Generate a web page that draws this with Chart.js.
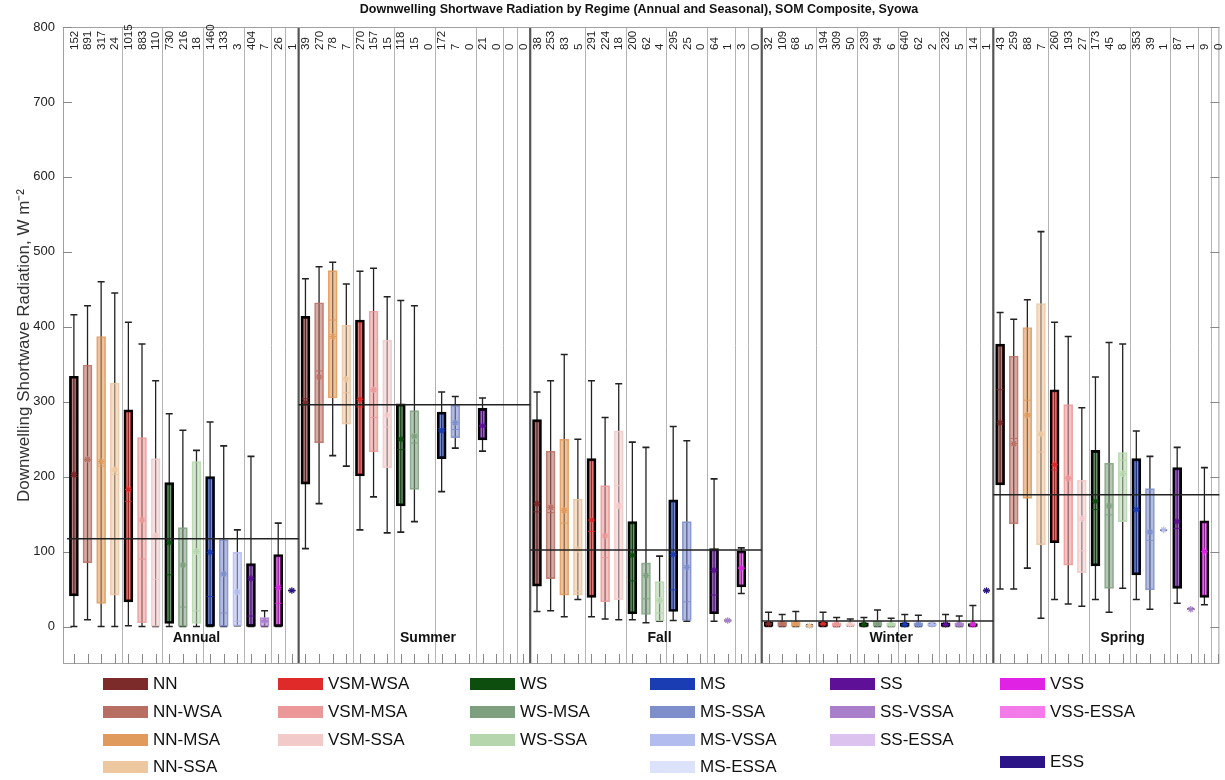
<!DOCTYPE html>
<html><head><meta charset="utf-8">
<script src="https://cdn.jsdelivr.net/npm/chart.js@4/dist/chart.umd.min.js"></script>
<style>
body{margin:0;background:#fff;font-family:"Liberation Sans",Arial,sans-serif;}
#wrap{position:relative;width:1225px;height:780px;overflow:hidden;}
canvas{position:absolute;left:0;top:0;}
#title{position:absolute;top:2px;left:0;width:1278px;text-align:center;font-weight:bold;font-size:12.5px;color:#111;}
.lg{position:absolute;font-size:17px;color:#111;line-height:20px;white-space:nowrap;}
.sw{position:absolute;width:45px;height:12px;}
</style></head>
<body><div id="wrap"><canvas id="c" width="1225" height="780"></canvas>
<div id="title">Downwelling Shortwave Radiation by Regime (Annual and Seasonal), SOM Composite, Syowa</div>
</div>
<script>
const seasons = ['Annual','Summer','Fall','Winter','Spring'];
const regimes = ['NN','NN-WSA','NN-MSA','NN-SSA','VSM-WSA','VSM-MSA','VSM-SSA','WS','WS-MSA','WS-SSA','MS','MS-SSA','MS-VSSA','SS','SS-VSSA','VSS','ESS'];
const seasonMeans = [117, 296, 102, 7.5, 176];

const counts = [
  [152,891,317,24,1015,883,110,730,216,18,1460,133,3,404,7,26,1],
  [39,270,78,7,270,157,15,118,15,0,172,7,0,21,0,0,0],
  [38,253,83,5,291,224,18,200,62,4,295,25,0,64,1,3,0],
  [32,109,68,5,194,309,50,239,94,6,640,62,2,232,5,14,1],
  [43,259,88,7,260,193,27,173,45,8,353,39,1,87,1,9,0]
];
const whiskerLow = [
  [0,9,0,0,1,0,0,0,0,0,0,0,1,0,0,0,48],
  [104,164,228,214,129,173,125,126,140,null,180,238,null,234,null,null,null],
  [20,21,13,36,13,10,9,9,5,7,8,7,null,7,8,44,null],
  [0,0,0,0,0,0,1,0,0,0,0,0,1,0,0,0,48],
  [50,50,78,11,36,30,27,36,19,51,36,23,129,31,23,29,null]
];
const quart1 = [
  [41,85,31,42,33,5,0,4,0,4,0,0,1,0,0,0,48],
  [190,245,305,270,201,233,212,161,183,null,224,252,null,249,null,null,null],
  [54,64,42,42,39,33,36,17,16,7,20,8,null,17,8,53,null],
  [0,0,0,0,0,0,1,0,0,0,0,0,1,0,0,0,48],
  [189,137,171,109,112,82,72,81,51,140,69,49,129,51,23,39,null]
];
const medians = [
  [200,222,214,203,167,90,63,69,26,21,40,18,7,14,7,31,48],
  [304,341,409,312,293,279,266,236,245,null,264,263,null,267,null,null,null],
  [153,152,138,47,127,92,188,61,37,18,49,33,null,42,8,78,null],
  [3,3,3,1,3,2,2,2,3,2,2,2,2,2,2,1,48],
  [316,251,302,233,209,198,101,156,149,222,156,115,129,131,23,100,null]
];
const quart3 = [
  [334,349,387,325,289,252,224,192,132,220,200,116,99,84,12,96,48],
  [414,432,475,402,409,421,382,297,288,null,286,295,null,291,null,null,null],
  [276,234,250,170,224,188,261,140,85,60,169,140,null,104,8,101,null],
  [6,6,6,1,6,5,4,5,7,5,5,5,4,5,5,4,48],
  [377,361,399,431,316,296,195,235,218,232,224,184,129,212,23,141,null]
];
const whiskerHigh = [
  [416,428,460,445,406,377,328,284,262,235,273,241,129,227,21,138,48],
  [464,480,486,457,474,478,440,435,428,null,313,307,null,305,null,null,null],
  [313,328,363,250,328,279,324,246,239,94,267,248,null,197,8,105,null],
  [19,16,20,2,19,12,10,12,22,11,16,15,4,16,14,28,48],
  [419,410,436,527,406,387,292,333,379,377,261,227,129,239,23,212,null]
];
const means = [
  [203,223,220,209,183,142,121,112,82,100,99,70,46,64,8,52,48],
  [299,333,387,330,303,316,282,250,254,null,261,272,null,268,null,null,null],
  [164,159,155,103,142,121,161,95,68,35,96,79,null,75,8,78,null],
  [4,4,4,1,4,3,3,3,4,3,3,3,3,3,3,3,48],
  [272,244,282,257,216,198,144,167,161,204,156,126,129,140,23,100,null]
];
const yTicks = [0,100,200,300,400,500,600,700,800];

const legendLabels = ['NN','NN-WSA','NN-MSA','NN-SSA','VSM-WSA','VSM-MSA','VSM-SSA','WS','WS-MSA','WS-SSA','MS','MS-SSA','MS-VSSA','MS-ESSA','SS','SS-VSSA','SS-ESSA','VSS','VSS-ESSA','ESS'];
const legendColors = ['#7d2a2a','#b86f63','#e09a5c','#ecc7a0','#e02a2a','#ec9898','#f2caca','#0d4d0d','#7fa07f','#b6d6ae','#1b3db3','#7d8ecb','#b3bcef','#dbe2fa','#5e1097','#a97fcb','#dcc2ee','#df22e3','#f27be9','#2b1486'];
const thickRegimes = ['NN','VSM-WSA','WS','MS','SS','VSS','ESS'];

function colorOf(name){ return legendColors[legendLabels.indexOf(name)]; }
function rgba(hex,a){ const n=parseInt(hex.slice(1),16); return `rgba(${n>>16&255},${n>>8&255},${n&255},${a})`; }
function family(n){ return n.split('-')[0]; }

const N = regimes.length;
const boxData=[], boxFill=[], boxBorder=[], boxBW=[];
const whisk=[], caps=[], medPts=[], medCol=[], meanPts=[], meanCol=[];
seasons.forEach((s,si)=>{
  regimes.forEach((r,ri)=>{
    if (quart1[si][ri]==null) return;
    const x = si*N + ri + 1;
    const col = colorOf(r);
    const thick = thickRegimes.includes(r);
    boxData.push({x, y:[quart1[si][ri], quart3[si][ri]]});
    boxFill.push(rgba(col,0.58));
    boxBorder.push(thick ? '#000' : rgba(col,0.85));
    boxBW.push(thick ? 2.3 : 1);
    whisk.push({x,y:whiskerLow[si][ri]},{x,y:whiskerHigh[si][ri]},{x,y:null});
    caps.push({x,y:whiskerLow[si][ri]},{x,y:whiskerHigh[si][ri]});
    medPts.push({x,y:medians[si][ri]}); medCol.push(rgba(col,0.95));
    meanPts.push({x,y:means[si][ri]}); meanCol.push(col);
  });
});
const seasonLine=[];
seasons.forEach((s,si)=>{
  seasonLine.push({x:si*N+0.5,y:seasonMeans[si]},{x:si*N+N+0.5,y:seasonMeans[si]},{x:si*N+N+0.5,y:null});
});

const deco = {
  id:'deco',
  beforeDatasetsDraw(chart){
    const {ctx, chartArea:a, scales:{x,y}} = chart;
    ctx.save();
    seasons.forEach((s,si)=>{
      for(let ri=0; ri<N-1; ri++){
        if (family(regimes[ri])!==family(regimes[ri+1])){
          const px = Math.round(x.getPixelForValue(si*N+ri+1.5))+0.5;
          ctx.strokeStyle='#b4b4b4'; ctx.lineWidth=1;
          ctx.beginPath(); ctx.moveTo(px,a.top); ctx.lineTo(px,a.bottom); ctx.stroke();
        }
      }
    });
    for(let si=1; si<seasons.length; si++){
      const px = x.getPixelForValue(si*N+0.5);
      ctx.strokeStyle='#555'; ctx.lineWidth=2.2;
      ctx.beginPath(); ctx.moveTo(px,a.top); ctx.lineTo(px,a.bottom); ctx.stroke();
    }
    ctx.strokeStyle='#a0a0a0'; ctx.lineWidth=1;
    ctx.strokeRect(a.left+0.5,a.top+0.5,a.right-a.left-1,a.bottom-a.top-1);
    ctx.strokeStyle='#888';
    yTicks.forEach(v=>{
      const py=Math.round(y.getPixelForValue(v))+0.5;
      ctx.beginPath(); ctx.moveTo(a.left,py); ctx.lineTo(a.left+9,py);
      ctx.moveTo(a.right,py); ctx.lineTo(a.right-9,py); ctx.stroke();
    });
    for(let i=1;i<=seasons.length*N;i++){
      const px=Math.round(x.getPixelForValue(i))+0.5;
      ctx.beginPath(); ctx.moveTo(px,a.bottom); ctx.lineTo(px,a.bottom-10); ctx.stroke();
    }
    ctx.restore();
  },
  afterDatasetsDraw(chart){
    const {ctx, chartArea:a, scales:{x,y}} = chart;
    ctx.save();
    ctx.fillStyle='#222'; ctx.font='11.5px "Liberation Sans", Arial, sans-serif';
    ctx.textAlign='left'; ctx.textBaseline='middle';
    seasons.forEach((s,si)=>{
      regimes.forEach((r,ri)=>{
        const px = x.getPixelForValue(si*N+ri+1);
        ctx.save(); ctx.translate(px+0.5, a.top+23); ctx.rotate(-Math.PI/2);
        ctx.fillText(String(counts[si][ri]),0,0); ctx.restore();
      });
    });
    ctx.font='bold 14px "Liberation Sans", Arial, sans-serif';
    ctx.textAlign='center'; ctx.fillStyle='#111';
    seasons.forEach((s,si)=>{
      ctx.fillText(s, x.getPixelForValue(si*N+10), y.getPixelForValue(-16));
    });
    ctx.restore();
  }
};

new Chart(document.getElementById('c'), {
  type:'scatter',
  data:{datasets:[
    {type:'line', data:whisk, borderColor:'#222', borderWidth:1.3, pointRadius:0, spanGaps:false, order:10},
    {type:'scatter', data:caps, pointStyle:'line', pointRadius:3.5, pointBorderWidth:1.6, pointBorderColor:'#222', order:9},
    {type:'bar', data:boxData, backgroundColor:boxFill, borderColor:boxBorder, borderWidth:boxBW, borderSkipped:false, barThickness:9, order:8},
    {type:'scatter', data:medPts, pointStyle:'line', pointRadius:3.5, pointBorderWidth:1, pointBorderColor:medCol, order:7},
    {type:'scatter', data:meanPts, pointStyle:'star', pointRadius:3.3, pointBorderWidth:1.2, pointBorderColor:meanCol, order:6},
    {type:'line', data:seasonLine, borderColor:'#222', borderWidth:1.5, pointRadius:0, spanGaps:false, order:1}
  ]},
  options:{
    responsive:false, animation:false,
    layout:{padding:{top:27,bottom:116,left:0,right:3}},
    plugins:{legend:{display:false}, tooltip:{enabled:false}},
    scales:{
      x:{type:'linear', min:0.2, max:85.1, offset:false, display:false},
      y:{type:'linear', min:-50, max:800,
         afterFit(s){ s.width=63; },
         grid:{display:false, drawTicks:false}, border:{display:false},
         ticks:{stepSize:100, padding:8, color:'#222', font:{size:13, family:'"Liberation Sans", Arial, sans-serif'},
                callback:v=> v>=0 ? v : ''},
         title:{display:true, text:'Downwelling Shortwave Radiation, W m⁻²', color:'#333', padding:{top:14,bottom:0},
                font:{size:17, family:'"Liberation Sans", Arial, sans-serif'}}
      }
    }
  },
  plugins:[deco]
});

const wrap=document.getElementById('wrap');
const colX=[103,278,470,650,830,1000];
const rowY=[684,712,740,767];
const fams=['NN','VSM','WS','MS','SS','VSS'];
legendLabels.forEach((lab,i)=>{
  let col, row;
  if (lab==='ESS'){ col=5; row=3; }
  else { col=fams.indexOf(family(lab)); row=legendLabels.filter(l=>family(l)===family(lab)).indexOf(lab); }
  const yc = lab==='ESS' ? 762 : rowY[row];
  const sw=document.createElement('div'); sw.className='sw';
  sw.style.left=colX[col]+'px'; sw.style.top=(yc-6)+'px'; sw.style.background=legendColors[i];
  wrap.appendChild(sw);
  const t=document.createElement('div'); t.className='lg'; t.textContent=lab;
  t.style.left=(colX[col]+50)+'px'; t.style.top=(yc-10)+'px';
  wrap.appendChild(t);
});
</script>
</body></html>
